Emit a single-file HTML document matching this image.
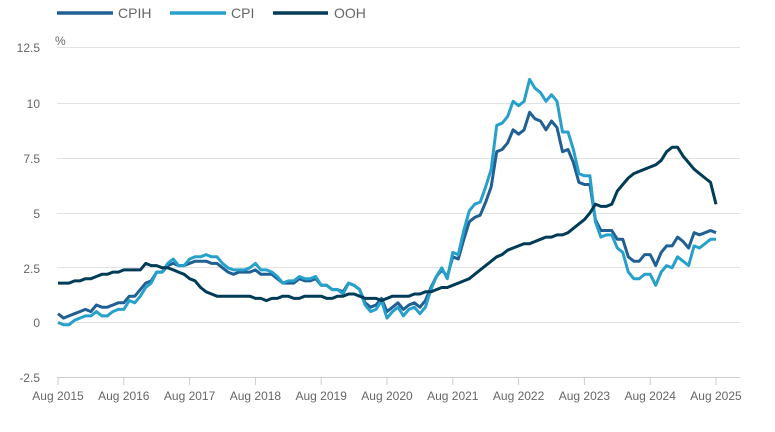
<!DOCTYPE html>
<html><head><meta charset="utf-8"><style>
html,body{margin:0;padding:0;background:#fff;}
svg{display:block;font-family:"Liberation Sans",sans-serif;}
</style></head><body>
<svg id="c" width="775" height="432" xmlns="http://www.w3.org/2000/svg">
<g stroke="#e2e2e2" stroke-width="1">
<line x1="57" x2="740" y1="47.5" y2="47.5"/>
<line x1="57" x2="740" y1="103.5" y2="103.5"/>
<line x1="57" x2="740" y1="158.5" y2="158.5"/>
<line x1="57" x2="740" y1="213.5" y2="213.5"/>
<line x1="57" x2="740" y1="267.5" y2="267.5"/>
<line x1="57" x2="740" y1="322.5" y2="322.5"/>
</g>
<line x1="57" x2="740" y1="377.5" y2="377.5" stroke="#ccc"/>
<g fill="#666" font-size="12" text-anchor="end">
<text x="40" y="52">12.5</text>
<text x="40" y="108">10</text>
<text x="40" y="163">7.5</text>
<text x="40" y="218">5</text>
<text x="40" y="273">2.5</text>
<text x="40" y="327">0</text>
<text x="40" y="382">-2.5</text>
</g>
<text x="55" y="45" fill="#666" font-size="12">%</text>
<g id="ticks" stroke="#ccc"></g>
<g id="xl" fill="#666" font-size="12" text-anchor="middle"></g>
<g stroke-width="3.5">
<line x1="57" x2="113" y1="13" y2="13" stroke="#206095"/>
<line x1="170" x2="226" y1="13" y2="13" stroke="#27a0cc"/>
<line x1="273" x2="328" y1="13" y2="13" stroke="#003c57"/>
</g>
<g fill="#666" font-size="14">
<text x="118" y="18">CPIH</text>
<text x="231" y="18">CPI</text>
<text x="334" y="18">OOH</text>
</g>
<g id="lines" fill="none" stroke-width="3" stroke-linejoin="round"></g>
</svg>
<script>
var cpi=[0,-0.1,-0.1,0.1,0.2,
0.3,0.3,0.5,0.3,0.3,0.5,0.6,0.6,1.0,0.9,1.2,1.6,
1.8,2.3,2.3,2.7,2.9,2.6,2.6,2.9,3.0,3.0,3.1,3.0,
3.0,2.7,2.5,2.4,2.4,2.4,2.5,2.7,2.4,2.4,2.3,2.1,
1.8,1.9,1.9,2.1,2.0,2.0,2.1,1.7,1.7,1.5,1.5,1.3,
1.8,1.7,1.5,0.8,0.5,0.6,1.0,0.2,0.5,0.7,0.3,0.6,
0.7,0.4,0.7,1.5,2.1,2.5,2.0,3.2,3.1,4.2,5.1,5.4,
5.5,6.2,7.0,9.0,9.1,9.4,10.1,9.9,10.1,11.1,10.7,10.5,
10.1,10.4,10.1,8.7,8.7,7.9,6.8,6.7,6.7,4.6,3.9,4.0,
4.0,3.4,3.2,2.3,2.0,2.0,2.2,2.2,1.7,2.3,2.6,2.5,
3.0,2.8,2.6,3.5,3.4,3.6,3.8,3.8];
var cpih=[0.4,0.2,0.3,0.4,0.5,
0.6,0.5,0.8,0.7,0.7,0.8,0.9,0.9,1.2,1.2,1.5,1.8,
1.9,2.3,2.3,2.6,2.7,2.6,2.6,2.7,2.8,2.8,2.8,2.7,
2.7,2.5,2.3,2.2,2.3,2.3,2.3,2.4,2.2,2.2,2.2,2.0,
1.8,1.8,1.8,2.0,1.9,1.9,2.0,1.7,1.7,1.5,1.5,1.4,
1.8,1.7,1.5,0.9,0.7,0.8,1.1,0.5,0.7,0.9,0.6,0.8,
0.9,0.7,1.0,1.6,2.1,2.4,2.1,3.0,2.9,3.8,4.6,4.8,
4.9,5.5,6.2,7.8,7.9,8.2,8.8,8.6,8.8,9.6,9.3,9.2,
8.8,9.2,8.9,7.8,7.9,7.3,6.4,6.3,6.3,4.7,4.2,4.2,
4.2,3.8,3.8,3.0,2.8,2.8,3.1,3.1,2.6,3.2,3.5,3.5,
3.9,3.7,3.4,4.1,4.0,4.1,4.2,4.1];
var ooh=[1.8,1.8,1.8,1.9,1.9,
2.0,2.0,2.1,2.2,2.2,2.3,2.3,2.4,2.4,2.4,2.4,2.7,
2.6,2.6,2.5,2.5,2.4,2.3,2.2,2.0,1.9,1.6,1.4,1.3,
1.2,1.2,1.2,1.2,1.2,1.2,1.2,1.1,1.1,1.0,1.1,1.1,
1.2,1.2,1.1,1.1,1.2,1.2,1.2,1.2,1.1,1.1,1.2,1.2,
1.3,1.3,1.2,1.1,1.1,1.1,1.0,1.1,1.2,1.2,1.2,1.2,
1.3,1.3,1.4,1.4,1.5,1.6,1.6,1.7,1.8,1.9,2.0,2.2,
2.4,2.6,2.8,3.0,3.1,3.3,3.4,3.5,3.6,3.6,3.7,3.8,
3.9,3.9,4.0,4.0,4.1,4.3,4.5,4.7,5.0,5.4,5.3,5.3,
5.4,6.0,6.3,6.6,6.8,6.9,7.0,7.1,7.2,7.4,7.8,8.0,
8.0,7.6,7.3,7.0,6.8,6.6,6.4,5.4];
function X(i){return 58+i*(658/120);}
function Y(v){return 322.5-v*21.9;}
var g=document.getElementById('lines');
[[cpih,'#206095'],[cpi,'#27a0cc'],[ooh,'#003c57']].forEach(function(s){
var p=s[0].map(function(v,i){return X(i).toFixed(1)+','+Y(v).toFixed(1);}).join(' ');
var e=document.createElementNS('http://www.w3.org/2000/svg','polyline');
e.setAttribute('points',p);e.setAttribute('stroke',s[1]);g.appendChild(e);});
var t=document.getElementById('ticks'),xl=document.getElementById('xl');
for(var k=0;k<=10;k++){var x=58+k*65.8;
var l=document.createElementNS('http://www.w3.org/2000/svg','line');
l.setAttribute('x1',x);l.setAttribute('x2',x);l.setAttribute('y1',378);l.setAttribute('y2',385);t.appendChild(l);
var tx=document.createElementNS('http://www.w3.org/2000/svg','text');
tx.setAttribute('x',x);tx.setAttribute('y',400);tx.textContent='Aug '+(2015+k);xl.appendChild(tx);}
</script>
</body></html>
